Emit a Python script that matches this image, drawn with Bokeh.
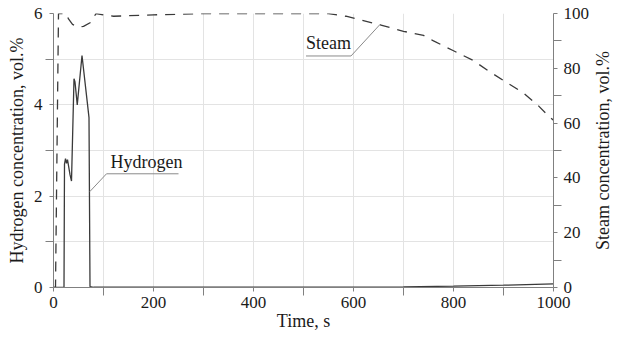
import math
from bokeh.plotting import figure
from bokeh.layouts import row
from bokeh.models import Range1d, LinearAxis, FixedTicker
from bokeh.core.properties import value
from bokeh.embed import file_html
from bokeh.resources import INLINE

# ---- data ----
time_h = [0, 21, 22, 24, 26, 28, 33, 36, 41, 43, 47.5, 57, 71, 73, 80, 300, 600, 700, 800, 900, 1000]
hydrogen = [0, 0, 2.7, 2.82, 2.72, 2.8, 2.47, 2.33, 4.57, 4.5, 4.0, 5.08, 3.72, 0.02, 0.005, 0.005, 0.005, 0.012, 0.03, 0.05, 0.08]

time_s = [0, 4, 10, 25, 30, 38, 50, 60, 75, 85, 100, 120, 200, 300, 550, 585, 655, 700, 740, 760,
          800, 840, 870, 905, 940, 970, 990, 1000]
steam = [0, 0, 100, 100, 98, 96, 95, 95.3, 96.8, 100, 99.5, 99, 99.5, 100, 100, 99, 95.8, 93.5, 92, 90,
         86.4, 82.8, 79, 75, 71, 66.3, 62.6, 61]

x_major = [0, 200, 400, 600, 800, 1000]
x_minor = [100, 300, 500, 700, 900]
h_major = [0, 2, 4, 6]
h_minor = [1, 3, 5]
s_major = [0, 20, 40, 60, 80, 100]
s_minor = [10, 30, 50, 70, 90]
grid_x = [100, 200, 300, 400, 500, 600, 700, 800, 900]
grid_y = [1, 2, 3, 4, 5]

FONT = "Liberation Serif"
TXT = "#1a1a1a"
AX = "#808080"
LINE = "#3a3a3a"

H = 333
W_MAIN, W_LAB = 592, 24
BL, BR, BT, BB = 53, 38, 13, 46

p = figure(width=W_MAIN, height=H, output_backend="svg", toolbar_location=None,
           x_range=Range1d(0, 1000), y_range=Range1d(0, 6),
           min_border_left=BL, min_border_right=BR, min_border_top=BT, min_border_bottom=BB)
p.outline_line_color = None
p.background_fill_color = "white"
p.border_fill_color = "white"
p.extra_y_ranges = {"steam": Range1d(0, 100)}

# grids
p.xgrid.ticker = FixedTicker(ticks=grid_x)
p.ygrid.ticker = FixedTicker(ticks=grid_y)
for g in (p.xgrid, p.ygrid):
    g.grid_line_color = "#e3e3e3"
    g.grid_line_width = 1

def style_axis(ax, major, minor):
    ax.ticker = FixedTicker(ticks=major, minor_ticks=minor)
    ax.axis_line_color = AX
    ax.major_tick_line_color = AX
    ax.minor_tick_line_color = AX
    ax.major_tick_in = 0
    ax.minor_tick_in = 0
    ax.major_tick_out = 4
    ax.minor_tick_out = 8
    ax.major_label_text_font = FONT
    ax.major_label_text_font_size = "17px"
    ax.major_label_text_color = TXT
    ax.axis_label_text_font = FONT
    ax.axis_label_text_font_size = "18px"
    ax.axis_label_text_font_style = "normal"
    ax.axis_label_text_color = TXT

xa = p.xaxis[0]
style_axis(xa, x_major, x_minor)
xa.axis_label = "Time, s"
xa.major_label_standoff = 1
xa.axis_label_standoff = 0

ya = p.yaxis[0]
style_axis(ya, h_major, h_minor)
ya.axis_label = "Hydrogen concentration, vol.%"
ya.major_label_standoff = 3
ya.axis_label_standoff = 4

ra = LinearAxis(y_range_name="steam")
style_axis(ra, s_major, s_minor)
ra.major_label_standoff = 2
p.add_layout(ra, "right")

# curves
p.line(time_h, hydrogen, line_color=LINE, line_width=1.3)
p.line(time_s, steam, y_range_name="steam", line_color=LINE, line_width=1.3, line_dash="10 8")

# annotations
p.text(x=[114], y=[2.52], text=["Hydrogen"], text_font=value(FONT), text_font_size="18px",
       text_color=TXT, text_baseline="bottom", text_align="left")
p.line([72.6, 106, 250], [2.1, 2.49, 2.49], line_color="#8a8a8a", line_width=1)

p.text(x=[505], y=[85.6], text=["Steam"], y_range_name="steam", text_font=value(FONT),
       text_font_size="18px", text_color=TXT, text_baseline="bottom", text_align="left")
p.line([505, 595, 653], [84.5, 84.5, 96], y_range_name="steam", line_color="#8a8a8a", line_width=1)

# right-hand axis title (reads bottom-to-top), in a narrow companion panel
q = figure(width=W_LAB, height=H, output_backend="svg", toolbar_location=None,
           x_range=Range1d(0, 1), y_range=Range1d(0, 1),
           min_border_left=0, min_border_right=0, min_border_top=BT, min_border_bottom=BB)
q.axis.visible = False
q.grid.visible = False
q.outline_line_color = None
q.background_fill_color = "white"
q.border_fill_color = "white"
q.text(x=[0.45], y=[0.5], text=["Steam concentration, vol.%"], angle=math.pi / 2,
       text_align="center", text_baseline="middle", text_font=value(FONT),
       text_font_size="18px", text_color=TXT)

layout = row(p, q, spacing=0)
open("out.html", "w").write(file_html(layout, INLINE))
